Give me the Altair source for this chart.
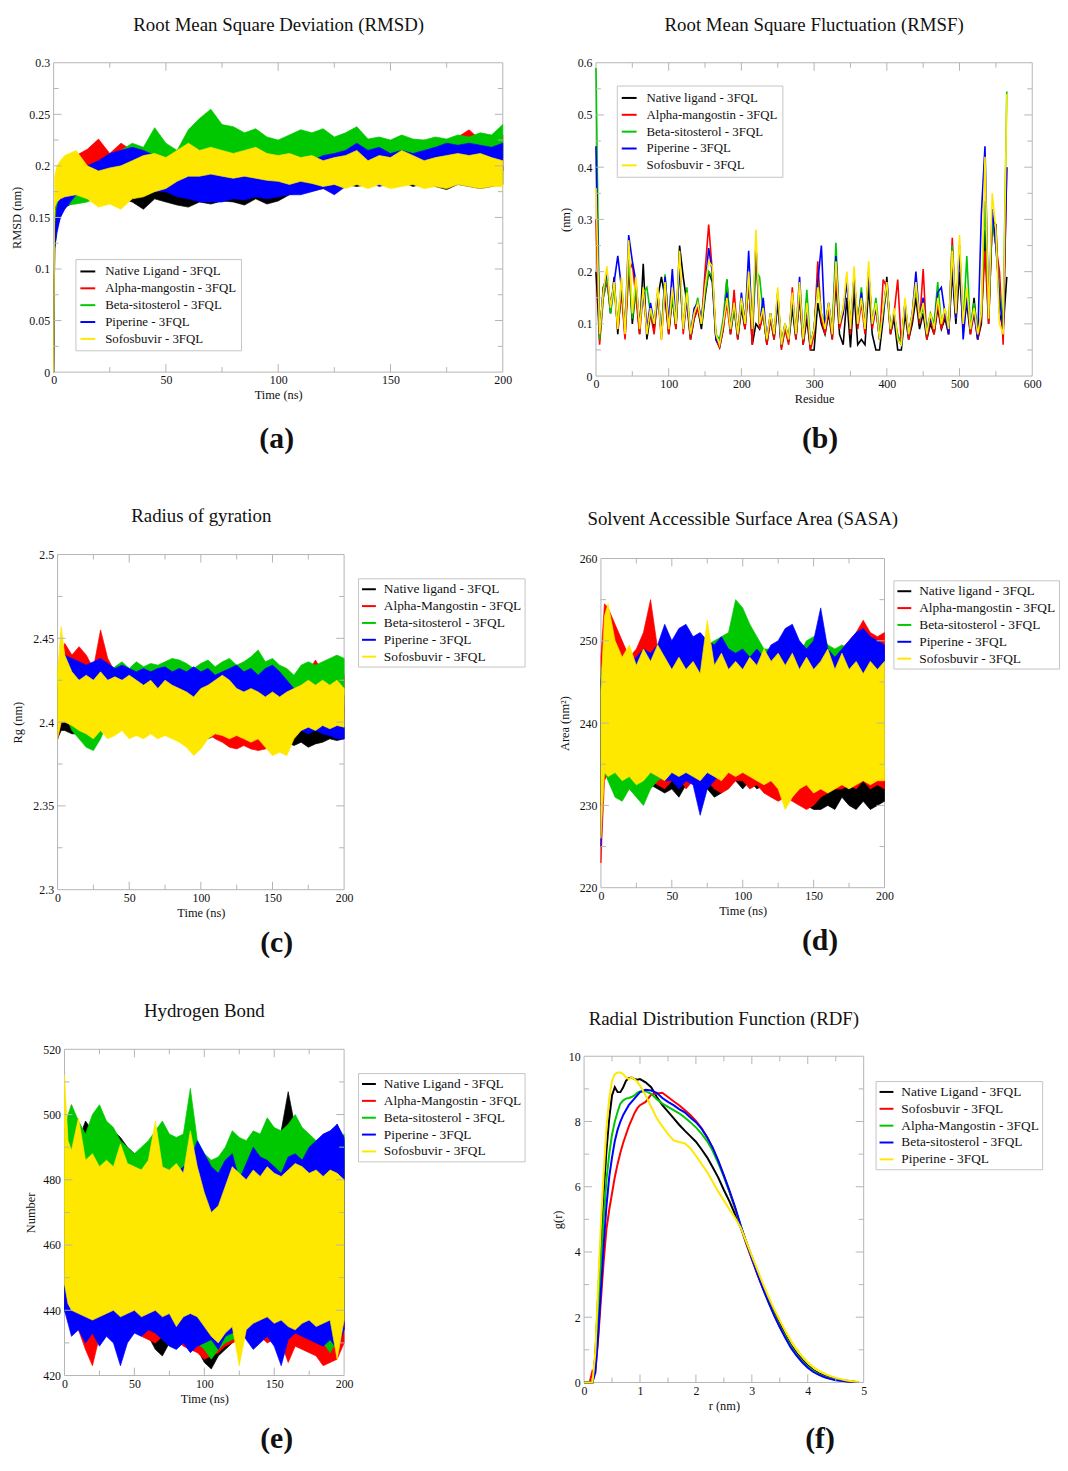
import altair as alt
import pandas as pd

FONT = "Liberation Serif"
INK = "#111111"
FRAME = "#b4b4b4"
LEGEND_EDGE = "#c4c4c4"
COLORS = ["#000000", "#ff0000", "#00c800", "#0000ff", "#ffe800"]

TITLES = ["Root Mean Square Deviation (RMSD)", "Root Mean Square Fluctuation (RMSF)",
          "Radius of gyration", "Solvent Accessible Surface Area (SASA)",
          "Hydrogen Bond", "Radial Distribution Function (RDF)"]
TAGS = ["(a)", "(b)", "(c)", "(d)", "(e)", "(f)"]
X_TITLES = ["Time (ns)", "Residue", "Time (ns)", "Time (ns)", "Time (ns)", "r (nm)"]
Y_TITLES = ["RMSD (nm)", "(nm)", "Rg (nm)", "Area (nm²)", "Number", "g(r)"]

LABELS_A = ["Native Ligand - 3FQL", "Alpha-mangostin - 3FQL", "Beta-sitosterol - 3FQL", "Piperine - 3FQL", "Sofosbuvir - 3FQL"]
LABELS_B = ["Native ligand - 3FQL", "Alpha-mangostin - 3FQL", "Beta-sitosterol - 3FQL", "Piperine - 3FQL", "Sofosbuvir - 3FQL"]
LABELS_C = ["Native ligand - 3FQL", "Alpha-Mangostin - 3FQL", "Beta-sitosterol - 3FQL", "Piperine - 3FQL", "Sofosbuvir - 3FQL"]
LABELS_D = ["Native ligand - 3FQL", "Alpha-mangostin - 3FQL", "Beta-sitosterol - 3FQL", "Piperine - 3FQL", "Sofosbuvir - 3FQL"]
LABELS_E = ["Native Ligand - 3FQL", "Alpha-Mangostin - 3FQL", "Beta-sitosterol - 3FQL", "Piperine - 3FQL", "Sofosbuvir - 3FQL"]
LABELS_F = ["Native Ligand - 3FQL", "Sofosbuvir - 3FQL", "Alpha-Mangostin - 3FQL", "Beta-sitosterol - 3FQL", "Piperine - 3FQL"]

# ---------------- (a) RMSD : band envelopes (upper / lower) ----------------
T_A = [0, 0.5, 1.5, 3] + list(range(5, 205, 5))
A_BLACK_HI = [0.0, 0.15, 0.165, 0.175, 0.18, 0.185, 0.19, 0.195, 0.19, 0.19, 0.185, 0.19, 0.186, 0.19, 0.184, 0.182, 0.19, 0.185, 0.19, 0.185, 0.19, 0.184, 0.19, 0.185, 0.195, 0.19, 0.195, 0.2, 0.198, 0.205, 0.21, 0.2, 0.226, 0.2, 0.195, 0.2, 0.195, 0.2, 0.195, 0.2, 0.195, 0.2, 0.198, 0.2]
A_BLACK_LO = [0.0, 0.12, 0.14, 0.15, 0.16, 0.165, 0.17, 0.172, 0.17, 0.168, 0.165, 0.158, 0.168, 0.165, 0.162, 0.16, 0.165, 0.163, 0.166, 0.165, 0.162, 0.168, 0.163, 0.166, 0.172, 0.175, 0.176, 0.178, 0.18, 0.182, 0.18, 0.182, 0.185, 0.182, 0.185, 0.18, 0.183, 0.18, 0.177, 0.182, 0.18, 0.178, 0.18, 0.182]
A_RED_HI = [0.0, 0.15, 0.175, 0.19, 0.205, 0.21, 0.216, 0.226, 0.212, 0.222, 0.215, 0.21, 0.215, 0.21, 0.214, 0.21, 0.215, 0.21, 0.215, 0.212, 0.215, 0.21, 0.214, 0.21, 0.212, 0.215, 0.21, 0.212, 0.21, 0.215, 0.22, 0.215, 0.225, 0.22, 0.222, 0.22, 0.225, 0.222, 0.225, 0.228, 0.235, 0.225, 0.228, 0.23]
A_RED_LO = [0.0, 0.13, 0.15, 0.165, 0.17, 0.18, 0.185, 0.19, 0.185, 0.19, 0.185, 0.18, 0.185, 0.178, 0.175, 0.172, 0.175, 0.172, 0.175, 0.175, 0.178, 0.178, 0.18, 0.178, 0.182, 0.18, 0.185, 0.185, 0.19, 0.188, 0.19, 0.185, 0.19, 0.188, 0.19, 0.188, 0.19, 0.19, 0.188, 0.192, 0.19, 0.192, 0.19, 0.195]
A_GREEN_HI = [0.0, 0.15, 0.17, 0.18, 0.185, 0.19, 0.195, 0.2, 0.205, 0.215, 0.222, 0.218, 0.237, 0.222, 0.215, 0.235, 0.246, 0.255, 0.24, 0.238, 0.232, 0.236, 0.228, 0.225, 0.23, 0.235, 0.232, 0.236, 0.228, 0.232, 0.238, 0.226, 0.228, 0.225, 0.23, 0.226, 0.225, 0.228, 0.226, 0.23, 0.228, 0.232, 0.23, 0.24]
A_GREEN_LO = [0.0, 0.12, 0.14, 0.155, 0.162, 0.163, 0.165, 0.17, 0.178, 0.185, 0.19, 0.192, 0.195, 0.2, 0.198, 0.205, 0.21, 0.212, 0.21, 0.208, 0.205, 0.205, 0.2, 0.2, 0.202, 0.205, 0.2, 0.205, 0.2, 0.205, 0.21, 0.2, 0.205, 0.2, 0.205, 0.202, 0.2, 0.205, 0.2, 0.205, 0.203, 0.205, 0.205, 0.208]
A_BLUE_HI = [0.0, 0.14, 0.16, 0.172, 0.18, 0.195, 0.2, 0.205, 0.212, 0.215, 0.218, 0.215, 0.21, 0.205, 0.2, 0.205, 0.2, 0.195, 0.198, 0.195, 0.198, 0.195, 0.198, 0.192, 0.195, 0.198, 0.205, 0.21, 0.212, 0.215, 0.222, 0.215, 0.218, 0.212, 0.215, 0.212, 0.215, 0.218, 0.222, 0.22, 0.222, 0.22, 0.218, 0.222]
A_BLUE_LO = [0.0, 0.12, 0.135, 0.15, 0.158, 0.172, 0.178, 0.18, 0.178, 0.18, 0.182, 0.178, 0.175, 0.175, 0.17, 0.168, 0.165, 0.165, 0.165, 0.168, 0.167, 0.17, 0.168, 0.17, 0.172, 0.172, 0.175, 0.178, 0.172, 0.18, 0.182, 0.185, 0.18, 0.183, 0.182, 0.185, 0.185, 0.188, 0.19, 0.192, 0.19, 0.192, 0.19, 0.195]
A_YEL_HI = [0.0, 0.19, 0.2, 0.205, 0.21, 0.215, 0.2, 0.195, 0.198, 0.2, 0.205, 0.21, 0.212, 0.208, 0.215, 0.222, 0.215, 0.218, 0.215, 0.212, 0.215, 0.218, 0.212, 0.21, 0.212, 0.208, 0.21, 0.205, 0.208, 0.21, 0.215, 0.205, 0.21, 0.208, 0.215, 0.21, 0.205, 0.208, 0.21, 0.212, 0.21, 0.212, 0.208, 0.205]
A_YEL_LO = [0.0, 0.16, 0.165, 0.168, 0.17, 0.172, 0.168, 0.16, 0.163, 0.158, 0.168, 0.17, 0.175, 0.178, 0.185, 0.19, 0.19, 0.192, 0.19, 0.188, 0.19, 0.188, 0.186, 0.185, 0.182, 0.185, 0.183, 0.18, 0.182, 0.178, 0.182, 0.178, 0.182, 0.178, 0.18, 0.182, 0.178, 0.18, 0.178, 0.182, 0.18, 0.178, 0.18, 0.18]

# ---------------- (b) RMSF : per-residue lines ----------------
R_B = list(range(0, 570, 5))
B_BLACK = [0.2, 0.07, 0.17, 0.19, 0.12, 0.19, 0.08, 0.17, 0.08, 0.22, 0.1, 0.17, 0.08, 0.215, 0.07, 0.12, 0.09, 0.15, 0.19, 0.15, 0.08, 0.15, 0.09, 0.25, 0.19, 0.14, 0.07, 0.11, 0.13, 0.09, 0.15, 0.2, 0.18, 0.07, 0.055, 0.09, 0.185, 0.08, 0.13, 0.07, 0.13, 0.09, 0.18, 0.06, 0.1, 0.09, 0.12, 0.06, 0.11, 0.07, 0.14, 0.055, 0.09, 0.065, 0.13, 0.07, 0.15, 0.06, 0.11, 0.05, 0.05, 0.14, 0.1, 0.08, 0.12, 0.07, 0.18, 0.08, 0.06, 0.15, 0.055, 0.16, 0.06, 0.07, 0.06, 0.17, 0.08, 0.05, 0.05, 0.11, 0.19, 0.08, 0.11, 0.05, 0.05, 0.12, 0.07, 0.1, 0.15, 0.09, 0.12, 0.07, 0.1, 0.08, 0.13, 0.09, 0.11, 0.08, 0.2, 0.1, 0.2, 0.09, 0.14, 0.08, 0.15, 0.07, 0.1, 0.28, 0.1, 0.3, 0.29, 0.12, 0.09, 0.19]
B_RED = [0.3, 0.06, 0.15, 0.18, 0.14, 0.17, 0.09, 0.16, 0.07, 0.2, 0.215, 0.15, 0.08, 0.16, 0.09, 0.12, 0.08, 0.16, 0.07, 0.17, 0.08, 0.16, 0.09, 0.22, 0.08, 0.15, 0.07, 0.11, 0.13, 0.1, 0.2, 0.29, 0.2, 0.07, 0.055, 0.09, 0.14, 0.08, 0.165, 0.07, 0.14, 0.09, 0.18, 0.06, 0.25, 0.09, 0.12, 0.06, 0.11, 0.07, 0.16, 0.05, 0.09, 0.06, 0.17, 0.07, 0.16, 0.06, 0.13, 0.05, 0.08, 0.22, 0.11, 0.08, 0.13, 0.07, 0.2, 0.09, 0.12, 0.19, 0.08, 0.19, 0.09, 0.14, 0.08, 0.2, 0.09, 0.13, 0.07, 0.185, 0.17, 0.08, 0.12, 0.185, 0.06, 0.14, 0.07, 0.11, 0.17, 0.1, 0.205, 0.07, 0.11, 0.08, 0.14, 0.09, 0.12, 0.08, 0.265, 0.11, 0.25, 0.09, 0.16, 0.08, 0.12, 0.07, 0.11, 0.24, 0.1, 0.3, 0.25, 0.2, 0.06, 0.4]
B_GREEN = [0.59, 0.07, 0.15, 0.19, 0.12, 0.17, 0.1, 0.18, 0.09, 0.23, 0.11, 0.17, 0.1, 0.16, 0.17, 0.12, 0.1, 0.16, 0.08, 0.195, 0.1, 0.15, 0.1, 0.2, 0.09, 0.17, 0.08, 0.12, 0.15, 0.1, 0.16, 0.2, 0.19, 0.08, 0.07, 0.11, 0.185, 0.09, 0.13, 0.08, 0.14, 0.1, 0.19, 0.09, 0.2, 0.19, 0.12, 0.07, 0.12, 0.08, 0.16, 0.06, 0.1, 0.07, 0.15, 0.08, 0.17, 0.07, 0.165, 0.06, 0.09, 0.18, 0.12, 0.1, 0.14, 0.09, 0.255, 0.1, 0.13, 0.18, 0.1, 0.19, 0.1, 0.17, 0.09, 0.2, 0.1, 0.15, 0.08, 0.12, 0.17, 0.09, 0.12, 0.08, 0.06, 0.14, 0.08, 0.12, 0.17, 0.11, 0.13, 0.09, 0.12, 0.1, 0.18, 0.1, 0.13, 0.09, 0.25, 0.12, 0.25, 0.1, 0.23, 0.09, 0.14, 0.08, 0.12, 0.335, 0.12, 0.3, 0.25, 0.16, 0.1, 0.545]
B_BLUE = [0.44, 0.08, 0.16, 0.2, 0.13, 0.18, 0.23, 0.17, 0.09, 0.27, 0.22, 0.18, 0.1, 0.16, 0.09, 0.14, 0.1, 0.16, 0.08, 0.19, 0.1, 0.205, 0.1, 0.21, 0.09, 0.15, 0.08, 0.13, 0.14, 0.11, 0.17, 0.245, 0.2, 0.07, 0.06, 0.1, 0.16, 0.09, 0.14, 0.08, 0.16, 0.1, 0.24, 0.09, 0.25, 0.1, 0.15, 0.07, 0.12, 0.08, 0.15, 0.06, 0.1, 0.07, 0.15, 0.08, 0.19, 0.07, 0.13, 0.06, 0.09, 0.18, 0.25, 0.09, 0.14, 0.08, 0.23, 0.1, 0.12, 0.18, 0.09, 0.19, 0.1, 0.16, 0.09, 0.2, 0.1, 0.13, 0.07, 0.12, 0.18, 0.09, 0.12, 0.07, 0.06, 0.14, 0.08, 0.12, 0.2, 0.11, 0.15, 0.08, 0.11, 0.09, 0.16, 0.17, 0.12, 0.08, 0.22, 0.11, 0.24, 0.07, 0.15, 0.09, 0.12, 0.07, 0.31, 0.44, 0.12, 0.32, 0.25, 0.15, 0.09, 0.4]
B_YEL = [0.36, 0.08, 0.16, 0.21, 0.13, 0.18, 0.09, 0.19, 0.08, 0.26, 0.12, 0.19, 0.09, 0.17, 0.08, 0.13, 0.1, 0.17, 0.07, 0.18, 0.09, 0.17, 0.1, 0.24, 0.09, 0.16, 0.08, 0.12, 0.14, 0.1, 0.17, 0.22, 0.21, 0.08, 0.06, 0.1, 0.15, 0.09, 0.14, 0.08, 0.15, 0.1, 0.2, 0.09, 0.28, 0.1, 0.13, 0.07, 0.12, 0.08, 0.17, 0.06, 0.1, 0.07, 0.16, 0.08, 0.18, 0.07, 0.14, 0.06, 0.09, 0.17, 0.12, 0.09, 0.14, 0.08, 0.22, 0.1, 0.13, 0.2, 0.09, 0.21, 0.1, 0.15, 0.09, 0.22, 0.1, 0.14, 0.07, 0.13, 0.18, 0.09, 0.13, 0.07, 0.06, 0.15, 0.08, 0.12, 0.18, 0.11, 0.14, 0.08, 0.12, 0.09, 0.15, 0.1, 0.13, 0.09, 0.24, 0.12, 0.27, 0.1, 0.17, 0.09, 0.13, 0.08, 0.12, 0.42, 0.11, 0.35, 0.28, 0.1, 0.08, 0.54]

# ---------------- (c) Radius of gyration : band envelopes ----------------
T_CDE = [0, 2.5] + list(range(5, 205, 5))
C_BLACK_HI = [2.42, 2.43, 2.425, 2.42, 2.425, 2.42, 2.422, 2.42, 2.425, 2.42, 2.418, 2.42, 2.418, 2.415, 2.418, 2.415, 2.418, 2.415, 2.412, 2.41, 2.408, 2.41, 2.412, 2.41, 2.412, 2.408, 2.41, 2.408, 2.405, 2.408, 2.405, 2.408, 2.406, 2.408, 2.405, 2.408, 2.405, 2.41, 2.408, 2.41, 2.408, 2.41]
C_BLACK_LO = [2.39, 2.395, 2.395, 2.393, 2.393, 2.395, 2.398, 2.398, 2.4, 2.4, 2.398, 2.4, 2.398, 2.395, 2.395, 2.397, 2.395, 2.392, 2.39, 2.39, 2.388, 2.392, 2.39, 2.392, 2.39, 2.388, 2.386, 2.388, 2.385, 2.387, 2.386, 2.385, 2.386, 2.388, 2.386, 2.388, 2.385, 2.387, 2.388, 2.39, 2.389, 2.39]
C_RED_HI = [2.42, 2.44, 2.447, 2.44, 2.445, 2.44, 2.432, 2.455, 2.438, 2.43, 2.428, 2.425, 2.425, 2.422, 2.42, 2.42, 2.418, 2.42, 2.418, 2.415, 2.418, 2.415, 2.418, 2.415, 2.418, 2.415, 2.412, 2.415, 2.412, 2.415, 2.412, 2.415, 2.418, 2.42, 2.425, 2.428, 2.43, 2.437, 2.43, 2.428, 2.43, 2.428]
C_RED_LO = [2.39, 2.4, 2.405, 2.41, 2.412, 2.41, 2.408, 2.41, 2.41, 2.405, 2.405, 2.403, 2.405, 2.4, 2.402, 2.4, 2.398, 2.4, 2.397, 2.395, 2.392, 2.395, 2.393, 2.39, 2.388, 2.385, 2.384, 2.386, 2.384, 2.383, 2.384, 2.386, 2.39, 2.395, 2.398, 2.4, 2.402, 2.405, 2.403, 2.405, 2.403, 2.405]
C_GREEN_HI = [2.43, 2.445, 2.44, 2.425, 2.42, 2.415, 2.412, 2.42, 2.43, 2.433, 2.436, 2.432, 2.436, 2.433, 2.435, 2.434, 2.436, 2.438, 2.437, 2.435, 2.432, 2.435, 2.437, 2.433, 2.436, 2.438, 2.434, 2.436, 2.439, 2.443, 2.436, 2.438, 2.434, 2.432, 2.428, 2.434, 2.436, 2.434, 2.436, 2.438, 2.44, 2.438]
C_GREEN_LO = [2.4, 2.41, 2.405, 2.395, 2.39, 2.385, 2.383, 2.39, 2.4, 2.405, 2.41, 2.41, 2.412, 2.41, 2.412, 2.41, 2.412, 2.41, 2.412, 2.41, 2.408, 2.41, 2.412, 2.41, 2.412, 2.41, 2.412, 2.41, 2.412, 2.41, 2.412, 2.41, 2.41, 2.41, 2.412, 2.41, 2.412, 2.414, 2.412, 2.414, 2.412, 2.414]
C_BLUE_HI = [2.42, 2.44, 2.44, 2.438, 2.436, 2.434, 2.436, 2.438, 2.435, 2.432, 2.434, 2.432, 2.43, 2.432, 2.43, 2.432, 2.433, 2.43, 2.432, 2.43, 2.433, 2.43, 2.432, 2.428, 2.43, 2.432, 2.434, 2.43, 2.432, 2.428, 2.432, 2.434, 2.43, 2.425, 2.42, 2.418, 2.422, 2.42, 2.418, 2.42, 2.418, 2.416]
C_BLUE_LO = [2.39, 2.405, 2.41, 2.415, 2.412, 2.41, 2.412, 2.41, 2.408, 2.41, 2.408, 2.41, 2.412, 2.41, 2.41, 2.412, 2.41, 2.412, 2.41, 2.405, 2.403, 2.405, 2.408, 2.405, 2.407, 2.405, 2.408, 2.406, 2.408, 2.405, 2.407, 2.405, 2.405, 2.398, 2.395, 2.395, 2.393, 2.395, 2.393, 2.392, 2.39, 2.39]
C_YEL_HI = [2.43, 2.457, 2.44, 2.43, 2.425, 2.428, 2.425, 2.43, 2.425, 2.427, 2.425, 2.428, 2.425, 2.422, 2.425, 2.42, 2.425, 2.422, 2.42, 2.418, 2.415, 2.42, 2.422, 2.425, 2.428, 2.425, 2.42, 2.418, 2.42, 2.418, 2.415, 2.418, 2.415, 2.418, 2.42, 2.422, 2.425, 2.422, 2.425, 2.422, 2.425, 2.42]
C_YEL_LO = [2.39, 2.4, 2.4, 2.398, 2.395, 2.393, 2.39, 2.395, 2.39, 2.392, 2.395, 2.39, 2.392, 2.39, 2.393, 2.39, 2.392, 2.39, 2.388, 2.385, 2.38, 2.384, 2.39, 2.393, 2.392, 2.39, 2.392, 2.39, 2.388, 2.39, 2.385, 2.38, 2.382, 2.38, 2.39, 2.395, 2.397, 2.395, 2.398, 2.396, 2.398, 2.397]

# ---------------- (d) SASA : band envelopes ----------------
D_BLACK_HI = [245, 248, 250, 248, 247, 246, 248, 247, 246, 248, 247, 248, 246, 247, 248, 247, 249, 248, 247, 248, 249, 251.5, 248, 247, 248, 246, 247, 248, 251.5, 247, 246, 245, 246, 245, 246, 245, 246, 247, 246, 245, 246, 245]
D_BLACK_LO = [230, 234, 235, 235, 234, 233, 233.5, 234, 232.5, 232, 231.5, 232, 231, 232.5, 233, 231.5, 232, 231, 231.5, 232.5, 233, 232, 233, 232, 232.5, 231.5, 232, 230.5, 231, 230.5, 230, 229.5, 229.5, 230, 229.5, 231, 230, 229.5, 230.5, 229.5, 230, 230.5]
D_RED_HI = [248, 254.5, 254, 252, 250, 248, 249, 251, 255, 249, 248, 249, 248, 247, 248, 249, 250, 248, 249, 248, 248.5, 248, 247.5, 248, 247, 248, 246.5, 247, 246, 247, 248, 246.5, 247, 248, 248.5, 249, 250, 251, 252.5, 251, 250.5, 251]
D_RED_LO = [223, 233, 234, 234, 233.5, 233, 233, 232.5, 233, 232.5, 232, 233, 233.5, 232, 233, 232.5, 233, 232, 231.5, 232, 233, 233, 232, 232.5, 231.5, 231, 230.5, 231, 230.5, 230, 229.5, 230, 231, 231.5, 232, 232, 232.5, 232, 233, 232, 232.5, 232]
D_GREEN_HI = [246, 249, 250, 248, 247, 248, 247, 248, 248.5, 247, 248, 247.5, 248, 248.5, 248, 249, 249.5, 250, 250.5, 251, 255, 254, 252, 250.5, 249, 249, 248, 248.5, 249, 248.5, 250, 250.5, 251, 249.5, 249, 249.5, 249, 248.5, 249, 248.5, 248, 248]
D_GREEN_LO = [232, 234, 233, 231, 230.5, 232, 231, 230, 232, 233, 233.5, 233, 234, 233.5, 234, 234.5, 235, 234, 234.5, 235, 234, 235, 234.5, 235, 234, 234.5, 234, 233.5, 234, 233.5, 234, 233, 234, 233.5, 233, 233.5, 234, 233, 233.5, 234, 233.5, 234]
D_BLUE_HI = [245, 249, 250.5, 249.5, 248, 247.5, 248, 249, 248.5, 249.5, 252, 250, 251.5, 252, 250.5, 251, 250, 249.5, 250.5, 249, 248.5, 249, 248, 249, 248, 249.5, 250, 251.5, 252, 250, 249, 250, 254, 249, 248, 249, 250, 251, 251.5, 250.5, 250, 249.5]
D_BLUE_LO = [225, 236, 235.5, 236, 235, 234.5, 234, 233.5, 234, 233.5, 233, 233, 232, 233, 232.5, 228.8, 232, 233, 234, 235.5, 235, 234.5, 235, 234, 233.5, 234, 233, 232.5, 233, 234, 234.5, 235, 234, 234.5, 235, 235.5, 234, 234.5, 234, 234.5, 235, 235]
D_YEL_HI = [244, 253, 254.5, 250, 248, 249.5, 247, 249, 247.5, 249.5, 248, 246.5, 248, 246.5, 247.5, 246, 252.5, 247, 248.5, 246.5, 247.5, 246.5, 248, 247, 249, 247.5, 248.5, 247, 248.5, 246.5, 248, 246.5, 247.5, 249, 246.5, 248.5, 246.5, 247.5, 246, 247.5, 246.5, 247.5]
D_YEL_LO = [226, 234, 233.5, 234, 233, 233.5, 232.5, 233, 234, 233.5, 233, 234, 233.5, 234, 233.5, 233, 234, 233.5, 233, 234, 233.5, 234, 233.5, 233, 232.5, 233, 232, 229.5, 231, 232, 232.5, 231.5, 232, 231.5, 232, 232.5, 232, 232.5, 233, 232.5, 233, 233]

# ---------------- (e) Hydrogen bonds : band envelopes ----------------
E_BLACK_HI = [490, 488, 490, 492, 498, 495, 490, 497, 495, 493, 490, 488, 487, 486, 485, 486, 487, 488, 487, 486, 484, 483, 482, 483, 485, 486, 488, 487, 488, 489, 490, 492, 495, 507, 496, 490, 488, 487, 488, 489, 497, 492]
E_BLACK_LO = [440, 438, 437, 436, 434, 432, 435, 433, 434, 433, 435, 434, 433, 432, 428, 426, 430, 432, 430, 431, 428, 424, 422, 426, 428, 430, 432, 434, 433, 435, 434, 436, 435, 434, 433, 434, 432, 433, 434, 432, 433, 434]
E_RED_HI = [492, 495, 503, 490, 488, 487, 488, 486, 487, 486, 485, 486, 484, 485, 486, 485, 487, 486, 485, 484, 483, 482, 483, 484, 486, 487, 488, 490, 489, 490, 488, 489, 491, 492, 490, 489, 488, 487, 488, 487, 488, 486]
E_RED_LO = [442, 438, 436, 434, 428, 423, 432, 434, 433, 435, 433, 434, 432, 431, 430, 432, 433, 431, 429, 428, 427, 425, 426, 427, 429, 430, 431, 432, 431, 432, 430, 431, 430, 424, 429, 428, 427, 426, 423, 424, 425, 430]
E_GREEN_HI = [495, 500, 503, 498, 494, 500, 503, 498, 496, 492, 490, 488, 490, 492, 495, 498, 494, 493, 494, 508, 492, 488, 486, 487, 490, 495, 493, 492, 495, 494, 499, 496, 495, 497, 500, 496, 494, 492, 493, 492, 491, 494]
E_GREEN_LO = [445, 440, 438, 437, 436, 435, 436, 435, 436, 437, 436, 438, 437, 436, 435, 434, 435, 436, 434, 433, 430, 428, 425, 428, 430, 431, 432, 434, 435, 436, 435, 434, 436, 435, 434, 433, 434, 432, 430, 427, 431, 438]
E_BLUE_HI = [470, 475, 478, 476, 478, 477, 479, 478, 477, 476, 478, 480, 482, 481, 483, 484, 483, 482, 484, 486, 492, 488, 484, 482, 486, 488, 480, 485, 490, 487, 486, 484, 482, 487, 488, 486, 490, 492, 494, 495, 497, 493]
E_BLUE_LO = [440, 436, 432, 434, 430, 433, 429, 432, 430, 423, 430, 433, 432, 434, 433, 431, 429, 428, 430, 427, 429, 430, 431, 428, 432, 433, 434, 431, 428, 430, 432, 429, 423, 431, 433, 432, 431, 430, 429, 431, 428, 434]
E_YEL_HI = [512, 492, 489, 499, 486, 488, 484, 486, 484, 491, 485, 484, 483, 486, 498, 484, 483, 485, 482, 495, 484, 476, 470, 472, 478, 484, 482, 480, 483, 481, 484, 482, 481, 483, 485, 484, 482, 483, 481, 483, 482, 480]
E_YEL_LO = [448, 442, 440, 439, 438, 437, 438, 439, 440, 438, 439, 440, 438, 439, 440, 438, 439, 435, 438, 439, 438, 435, 432, 430, 433, 435, 423, 434, 436, 437, 438, 436, 437, 435, 434, 436, 437, 435, 436, 437, 425, 437]

# ---------------- (f) RDF : smooth lines ----------------
R_F = [0, 0.1, 0.15, 0.2, 0.25, 0.3, 0.35, 0.4, 0.45, 0.5, 0.55, 0.6, 0.65, 0.7, 0.75, 0.8, 0.85, 0.9, 0.95, 1.0,
       1.1, 1.2, 1.3, 1.4, 1.5, 1.6, 1.7, 1.8, 1.9, 2.0, 2.1, 2.2, 2.3, 2.4, 2.5, 2.6, 2.7, 2.8, 2.9, 3.0,
       3.1, 3.2, 3.3, 3.4, 3.5, 3.6, 3.7, 3.8, 3.9, 4.0, 4.1, 4.2, 4.3, 4.4, 4.5, 4.6, 4.7, 4.8, 4.9]
F_BLACK = [0, 0, 0, 0.8, 2.6, 4.3, 5.8, 7.1, 8.1, 8.8, 9.05, 8.9, 8.9, 9.05, 9.25, 9.33, 9.35, 9.3, 9.28, 9.3, 9.2, 9.05, 8.75, 8.5, 8.3, 8.1, 7.9, 7.72, 7.55, 7.38, 7.15, 6.9, 6.6, 6.28, 5.9, 5.55, 5.15, 4.75, 4.3, 3.85, 3.4, 2.95, 2.55, 2.15, 1.8, 1.45, 1.15, 0.9, 0.7, 0.52, 0.38, 0.28, 0.2, 0.14, 0.1, 0.07, 0.05, 0.03, 0.01]
F_RED = [0, 0, 0.35, 0.3, 1.3, 2.5, 3.7, 4.7, 5.3, 5.8, 6.3, 6.7, 7.05, 7.35, 7.6, 7.85, 8.05, 8.25, 8.4, 8.5, 8.6, 8.82, 8.86, 8.88, 8.75, 8.62, 8.5, 8.35, 8.2, 8.02, 7.8, 7.52, 7.18, 6.78, 6.33, 5.85, 5.33, 4.78, 4.25, 3.78, 3.32, 2.88, 2.47, 2.08, 1.72, 1.4, 1.1, 0.85, 0.65, 0.48, 0.35, 0.25, 0.18, 0.13, 0.09, 0.06, 0.04, 0.02, 0.01]
F_GREEN = [0, 0, 0, 0.5, 2.0, 3.6, 5.0, 6.2, 7.0, 7.6, 8.0, 8.3, 8.55, 8.65, 8.7, 8.72, 8.75, 8.8, 8.88, 8.92, 8.93, 8.85, 8.68, 8.55, 8.45, 8.35, 8.25, 8.12, 7.98, 7.82, 7.63, 7.4, 7.1, 6.72, 6.3, 5.85, 5.35, 4.8, 4.3, 3.82, 3.35, 2.9, 2.48, 2.08, 1.72, 1.4, 1.1, 0.85, 0.65, 0.48, 0.35, 0.25, 0.18, 0.12, 0.08, 0.06, 0.04, 0.02, 0.01]
F_BLUE = [0, 0, 0, 0.3, 1.4, 2.8, 4.2, 5.4, 6.3, 6.9, 7.4, 7.75, 8.0, 8.2, 8.35, 8.5, 8.6, 8.7, 8.8, 8.9, 8.97, 8.95, 8.88, 8.72, 8.6, 8.5, 8.38, 8.28, 8.12, 7.98, 7.78, 7.52, 7.2, 6.8, 6.35, 5.88, 5.38, 4.82, 4.3, 3.8, 3.32, 2.87, 2.45, 2.05, 1.69, 1.36, 1.06, 0.82, 0.62, 0.45, 0.32, 0.23, 0.16, 0.11, 0.07, 0.05, 0.03, 0.02, 0.01]
F_YEL = [0, 0, 0, 0.9, 2.9, 4.8, 6.4, 7.8, 8.7, 9.25, 9.45, 9.5, 9.5, 9.45, 9.35, 9.3, 9.35, 9.3, 9.22, 9.1, 8.8, 8.45, 8.1, 7.85, 7.62, 7.42, 7.37, 7.33, 7.18, 6.95, 6.7, 6.45, 6.15, 5.85, 5.58, 5.3, 5.05, 4.75, 4.32, 3.88, 3.45, 3.02, 2.62, 2.25, 1.9, 1.58, 1.28, 1.02, 0.8, 0.62, 0.47, 0.36, 0.27, 0.2, 0.14, 0.1, 0.06, 0.04, 0.02]

# axis label values and inner tick positions
TIME_LABELS = [0, 50, 100, 150, 200]
TIME_MAJ = [50, 100, 150]
TIME_MIN = [25, 75, 125, 175]


def check(name, xs, arrs):
    for a in arrs:
        assert len(a) == len(xs), (name, len(a), len(xs))


check("a", T_A, [A_BLACK_HI, A_BLACK_LO, A_RED_HI, A_RED_LO, A_GREEN_HI, A_GREEN_LO, A_BLUE_HI, A_BLUE_LO, A_YEL_HI, A_YEL_LO])
check("b", R_B, [B_BLACK, B_RED, B_GREEN, B_BLUE, B_YEL])
check("c", T_CDE, [C_BLACK_HI, C_BLACK_LO, C_RED_HI, C_RED_LO, C_GREEN_HI, C_GREEN_LO, C_BLUE_HI, C_BLUE_LO, C_YEL_HI, C_YEL_LO])
check("d", T_CDE, [D_BLACK_HI, D_BLACK_LO, D_RED_HI, D_RED_LO, D_GREEN_HI, D_GREEN_LO, D_BLUE_HI, D_BLUE_LO, D_YEL_HI, D_YEL_LO])
check("e", T_CDE, [E_BLACK_HI, E_BLACK_LO, E_RED_HI, E_RED_LO, E_GREEN_HI, E_GREEN_LO, E_BLUE_HI, E_BLUE_LO, E_YEL_HI, E_YEL_LO])
check("f", R_F, [F_BLACK, F_RED, F_GREEN, F_BLUE, F_YEL])

ONE = pd.DataFrame({"k": [0]})
LABEL_EXPR = "'' + datum.value"


def make_panel(c):
    W, H, ox, oy = c["W"], c["H"], c["ox"], c["oy"]
    X = alt.X("x:Q", scale=alt.Scale(domain=c["xdom"], range=[ox, ox + W], nice=False, zero=False), title=c["xtitle"],
              axis=alt.Axis(values=c["xvals"], labelExpr=LABEL_EXPR, labelPadding=3, titlePadding=c["xtpad"],
                            minExtent=15, maxExtent=15, ticks=False, domain=False, grid=False,
                            labelFlush=False, labelOverlap=False))
    Y = alt.Y("y:Q", scale=alt.Scale(domain=c["ydom"], range=[oy + H, oy], nice=False, zero=False), title=c["ytitle"],
              axis=alt.Axis(values=c["yvals"], labelExpr=LABEL_EXPR, labelPadding=4, titlePadding=c["ytpad"],
                            minExtent=c["yext"], maxExtent=c["yext"], offset=-ox, ticks=False, domain=False, grid=False,
                            labelFlush=False, labelOverlap=False))
    cscale = alt.Scale(domain=c["labels"], range=COLORS)
    leg = alt.Legend(orient="none", legendX=c["legx"], legendY=c["legy"], title=None,
                     symbolType="stroke", symbolSize=c["symsize"], symbolStrokeWidth=2,
                     labelFont=FONT, labelFontSize=c["legfs"], labelColor=INK, labelOffset=c["laboff"],
                     rowPadding=c["rowpad"], padding=c["legpad"], fillColor="white",
                     strokeColor=LEGEND_EDGE, labelLimit=300)
    layers = [alt.Chart(ONE).mark_rect(fill="white", stroke=FRAME, strokeWidth=1).encode(
        x=alt.value(ox), x2=alt.value(ox + W), y=alt.value(oy), y2=alt.value(oy + H))]
    if c["kind"] == "band":
        for lab, (hi, lo) in zip(c["labels"], c["series"]):
            df = pd.DataFrame({"x": c["xs"], "y": hi, "y2": lo, "s": lab})
            layers.append(alt.Chart(df).mark_area(opacity=1, strokeWidth=0.7).encode(
                x=X, y=Y, y2=alt.Y2("y2:Q"),
                fill=alt.Fill("s:N", scale=cscale, legend=leg),
                stroke=alt.Stroke("s:N", scale=cscale, legend=leg)))
    else:
        for lab, vals in zip(c["labels"], c["series"]):
            df = pd.DataFrame({"x": c["xs"], "y": vals, "s": lab})
            layers.append(alt.Chart(df).mark_line(strokeWidth=c["lw"]).encode(
                x=X, y=Y, color=alt.Color("s:N", scale=cscale, legend=leg)))
    # inward ticks on all four sides
    for vals, L in ((c["xmaj"], 8), (c["xmin"], 5)):
        rule = alt.Chart(pd.DataFrame({"x": vals})).mark_rule(color=FRAME, strokeWidth=1)
        layers.append(rule.encode(x=X, y=alt.value(oy + H), y2=alt.value(oy + H - L)))
        layers.append(rule.encode(x=X, y=alt.value(oy), y2=alt.value(oy + L)))
    for vals, L in ((c["ymaj"], 8), (c["ymin"], 5)):
        rule = alt.Chart(pd.DataFrame({"y": vals})).mark_rule(color=FRAME, strokeWidth=1)
        layers.append(rule.encode(y=Y, x=alt.value(ox), x2=alt.value(ox + L)))
        layers.append(rule.encode(y=Y, x=alt.value(ox + W), x2=alt.value(ox + W - L)))
    layers.append(alt.Chart(ONE).mark_text(font=FONT, fontSize=19, color=INK, align="center", baseline="middle").encode(
        x=alt.value(c["tx"]), y=alt.value(c["ty"]), text=alt.value(c["title"])))
    layers.append(alt.Chart(ONE).mark_text(font=FONT, fontSize=30, fontWeight="bold", color=INK, align="center", baseline="middle").encode(
        x=alt.value(c["gx"]), y=alt.value(c["gy"]), text=alt.value(c["tag"])))
    b = c["box"]
    layers.append(alt.Chart(ONE).mark_rect(opacity=0).encode(
        x=alt.value(b[0]), x2=alt.value(b[1]), y=alt.value(b[2]), y2=alt.value(b[3])))
    return alt.layer(*layers).properties(width=ox + W, height=oy + H)


RES = dict(color="independent", fill="independent", stroke="independent")

LEG_AB = dict(symsize=225, legfs=13, laboff=9, rowpad=1, legpad=4)
LEG_CF = dict(symsize=196, legfs=13.5, laboff=7, rowpad=2, legpad=3)

PA = dict(kind="band", W=453, H=312, ox=0, oy=0, xdom=[0, 200], ydom=[0, 0.3], xs=T_A,
          xvals=TIME_LABELS, yvals=[0, 0.05, 0.1, 0.15, 0.2, 0.25, 0.3],
          xmaj=TIME_MAJ, xmin=TIME_MIN, ymaj=[0.05, 0.1, 0.15, 0.2, 0.25], ymin=[0.025, 0.075, 0.125, 0.175, 0.225, 0.275],
          xtitle=X_TITLES[0], ytitle=Y_TITLES[0], xtpad=1.5, yext=28, ytpad=2.25,
          labels=LABELS_A, series=[(A_BLACK_HI, A_BLACK_LO), (A_RED_HI, A_RED_LO), (A_GREEN_HI, A_GREEN_LO), (A_BLUE_HI, A_BLUE_LO), (A_YEL_HI, A_YEL_LO)],
          legx=22, legy=198, title=TITLES[0], tx=227, ty=-38, tag=TAGS[0], gx=225, gy=380,
          box=[-45, 487, -48, 418], **LEG_AB)
PB = dict(kind="line", lw=1.6, W=440, H=316, ox=0, oy=0, xdom=[0, 600], ydom=[0, 0.6], xs=R_B,
          xvals=[0, 100, 200, 300, 400, 500, 600], yvals=[0, 0.1, 0.2, 0.3, 0.4, 0.5, 0.6],
          xmaj=[100, 200, 300, 400, 500], xmin=[50, 150, 250, 350, 450, 550],
          ymaj=[0.1, 0.2, 0.3, 0.4, 0.5], ymin=[0.05, 0.15, 0.25, 0.35, 0.45, 0.55],
          xtitle=X_TITLES[1], ytitle=Y_TITLES[1], xtpad=1.5, yext=22, ytpad=1.25,
          labels=LABELS_B, series=[B_BLACK, B_RED, B_GREEN, B_BLUE, B_YEL],
          legx=21, legy=23, title=TITLES[1], tx=220, ty=-38, tag=TAGS[1], gx=226, gy=380,
          box=[-58, 452, -48, 418], **LEG_AB)
PC = dict(kind="band", W=289, H=338, ox=4, oy=0, xdom=[0, 200], ydom=[2.3, 2.5], xs=T_CDE,
          xvals=TIME_LABELS, yvals=[2.3, 2.35, 2.4, 2.45, 2.5],
          xmaj=TIME_MAJ, xmin=TIME_MIN, ymaj=[2.35, 2.4, 2.45], ymin=[2.325, 2.375, 2.425, 2.475],
          xtitle=X_TITLES[2], ytitle=Y_TITLES[2], xtpad=2, yext=28, ytpad=5.25,
          labels=LABELS_C, series=[(C_BLACK_HI, C_BLACK_LO), (C_RED_HI, C_RED_LO), (C_GREEN_HI, C_GREEN_LO), (C_BLUE_HI, C_BLUE_LO), (C_YEL_HI, C_YEL_LO)],
          legx=307, legy=24, title=TITLES[2], tx=149, ty=-39, tag=TAGS[2], gx=225, gy=392,
          box=[-45, 487, -76, 428], **LEG_CF)
PD = dict(kind="band", W=286, H=332, ox=0, oy=4, xdom=[0, 200], ydom=[220, 260], xs=T_CDE,
          xvals=TIME_LABELS, yvals=[220, 230, 240, 250, 260],
          xmaj=TIME_MAJ, xmin=TIME_MIN, ymaj=[230, 240, 250], ymin=[225, 235, 245, 255],
          xtitle=X_TITLES[3], ytitle=Y_TITLES[3], xtpad=2, yext=26, ytpad=3.5,
          labels=LABELS_D, series=[(D_BLACK_HI, D_BLACK_LO), (D_RED_HI, D_RED_LO), (D_GREEN_HI, D_GREEN_LO), (D_BLUE_HI, D_BLUE_LO), (D_YEL_HI, D_YEL_LO)],
          legx=295, legy=26, title=TITLES[3], tx=143, ty=-36, tag=TAGS[3], gx=221, gy=390,
          box=[-63, 447, -76, 428], **LEG_CF)
PE = dict(kind="band", W=282, H=329, ox=11, oy=0, xdom=[0, 200], ydom=[420, 520], xs=T_CDE,
          xvals=TIME_LABELS, yvals=[420, 440, 460, 480, 500, 520],
          xmaj=TIME_MAJ, xmin=TIME_MIN, ymaj=[440, 460, 480, 500], ymin=[430, 450, 470, 490, 510],
          xtitle=X_TITLES[4], ytitle=Y_TITLES[4], xtpad=2, yext=26, ytpad=1.25,
          labels=LABELS_E, series=[(E_BLACK_HI, E_BLACK_LO), (E_RED_HI, E_RED_LO), (E_GREEN_HI, E_GREEN_LO), (E_BLUE_HI, E_BLUE_LO), (E_YEL_HI, E_YEL_LO)],
          legx=307, legy=24, title=TITLES[4], tx=152, ty=-39, tag=TAGS[4], gx=225, gy=393,
          box=[-45, 487, -69, 405], **LEG_CF)
PF = dict(kind="line", lw=2, W=282, H=329, ox=0, oy=7, xdom=[0, 5], ydom=[0, 10], xs=R_F,
          xvals=[0, 1, 2, 3, 4, 5], yvals=[0, 2, 4, 6, 8, 10],
          xmaj=[1, 2, 3, 4], xmin=[0.5, 1.5, 2.5, 3.5, 4.5], ymaj=[2, 4, 6, 8], ymin=[1, 3, 5, 7, 9],
          xtitle=X_TITLES[5], ytitle=Y_TITLES[5], xtpad=2, yext=18, ytpad=2.25,
          labels=LABELS_F, series=[F_BLACK, F_RED, F_GREEN, F_BLUE, F_YEL],
          legx=294, legy=32, title=TITLES[5], tx=141, ty=-31, tag=TAGS[5], gx=238, gy=393,
          box=[-46, 464, -69, 405], **LEG_CF)


def row(pl, pr):
    return alt.hconcat(make_panel(pl), make_panel(pr), spacing=0).resolve_scale(**RES)


chart = (alt.vconcat(row(PA, PB), row(PC, PD), row(PE, PF), spacing=0)
         .resolve_scale(**RES)
         .properties(padding=0, background="white")
         .configure_view(stroke="transparent")
         .configure_axis(labelFont=FONT, titleFont=FONT, labelFontSize=12, titleFontSize=12.5,
                         labelColor=INK, titleColor=INK, titleFontWeight="normal"))

chart.save("out.html", embed_options={"renderer": "svg", "actions": False})
